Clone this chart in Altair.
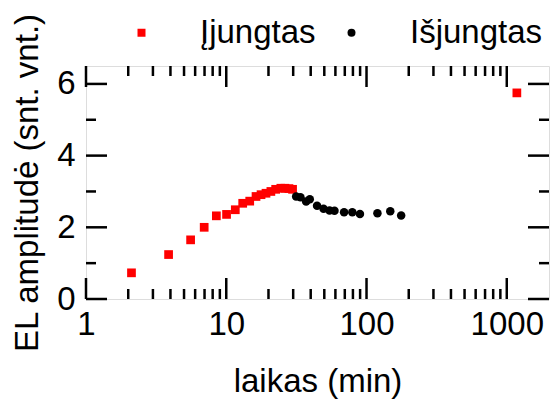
import altair as alt
import pandas as pd

# ---- data ----
on_time = [2.11, 3.88, 5.57, 6.96, 8.5, 10.05, 11.6, 13.1, 14.7, 16.3, 17.7, 19.2,
           20.8, 22.5, 24.5, 26.2, 28.0, 29.7, 1180]
on_amp = [0.73, 1.24, 1.65, 2.0, 2.32, 2.36, 2.49, 2.67, 2.73, 2.86, 2.91, 2.95,
          3.0, 3.06, 3.09, 3.09, 3.08, 3.06, 5.75]
off_time = [31.5, 33.8, 37.1, 39.4, 44.4, 49.4, 54.5, 59.1, 69.2, 79.2, 89.8,
            119.6, 147.7, 176.6]
off_amp = [2.86, 2.84, 2.72, 2.78, 2.60, 2.52, 2.47, 2.46, 2.42, 2.42, 2.37,
           2.39, 2.45, 2.33]
series_names = ["Įjungtas", "Išjungtas"]

x_major = [1, 10, 100, 1000]
x_minor = [2, 3, 4, 5, 6, 7, 8, 9, 20, 30, 40, 50, 60, 70, 80, 90,
           200, 300, 400, 500, 600, 700, 800, 900]
y_major = [0, 2, 4, 6]
y_minor = [1, 3, 5]

W, H = 463, 233
FONT = "Liberation Sans"
FS = 33

df = pd.DataFrame({
    "t": on_time + off_time,
    "a": on_amp + off_amp,
    "s": [series_names[0]] * len(on_time) + [series_names[1]] * len(off_time),
})

xscale = alt.Scale(type="log", domain=[1, 2000], nice=False)
yscale = alt.Scale(domain=[0, 6.5], nice=False, zero=False)

xaxis = alt.Axis(values=x_major, format="d", tickSize=0, domain=False, grid=False,
                 labelFont=FONT, labelFontSize=FS, labelColor="black", labelPadding=9,
                 title="laikas (min)", titleFont=FONT, titleFontSize=FS,
                 titleFontWeight="normal", titleColor="black", titlePadding=24,
                 labelFlush=False, labelOverlap=False)
yaxis = alt.Axis(values=y_major, tickSize=0, domain=False, grid=False,
                 labelFont=FONT, labelFontSize=FS, labelColor="black", labelPadding=11,
                 title="EL amplitudė (snt. vnt.)", titleFont=FONT, titleFontSize=FS,
                 titleFontWeight="normal", titleColor="black", titlePadding=12,
                 labelFlush=False, labelOverlap=False)

legend = alt.Legend(title=None, orient="none", direction="horizontal",
                    legendX=39, legendY=-50, labelFont=FONT,
                    labelFontSize=FS, labelColor="black",
                    labelOffset=42, columnPadding=19, symbolSize=64,
                    symbolStrokeWidth=0, padding=0, labelLimit=300)

points = alt.Chart(df).mark_point(filled=True, opacity=1, strokeWidth=0).encode(
    x=alt.X("t:Q", scale=xscale, axis=xaxis),
    y=alt.Y("a:Q", scale=yscale, axis=yaxis),
    color=alt.Color("s:N", scale=alt.Scale(domain=series_names, range=["#ff0000", "#000000"]),
                    legend=legend),
    shape=alt.Shape("s:N", scale=alt.Scale(domain=series_names, range=["square", "circle"]),
                    legend=legend),
    size=alt.condition(alt.datum.s == series_names[0], alt.value(76), alt.value(72)),
)

TW = 2.5
xmaj = pd.DataFrame({"t": x_major})
xmin = pd.DataFrame({"t": x_minor})
ymaj = pd.DataFrame({"a": y_major})
ymin = pd.DataFrame({"a": y_minor})

def xticks(d, length):
    bottom = alt.Chart(d).mark_rule(color="black", strokeWidth=TW).encode(
        x=alt.X("t:Q", scale=xscale), y=alt.value(H), y2=alt.value(H - length))
    top = alt.Chart(d).mark_rule(color="black", strokeWidth=TW).encode(
        x=alt.X("t:Q", scale=xscale), y=alt.value(0), y2=alt.value(length))
    return bottom + top

def yticks(d, length):
    left = alt.Chart(d).mark_rule(color="black", strokeWidth=TW).encode(
        y=alt.Y("a:Q", scale=yscale), x=alt.value(0), x2=alt.value(length))
    right = alt.Chart(d).mark_rule(color="black", strokeWidth=TW).encode(
        y=alt.Y("a:Q", scale=yscale), x=alt.value(W), x2=alt.value(W - length))
    return left + right

chart = alt.layer(
    xticks(xmaj, 21), xticks(xmin, 10), yticks(ymaj, 21), yticks(ymin, 10), points
).properties(
    width=W, height=H,
    autosize=alt.AutoSizeParams(type="none"),
    padding={"left": 86, "top": 66, "right": 2, "bottom": 100},
).configure_view(stroke="black", strokeWidth=3).configure(background="white")

chart.save("out.html", embed_options={"renderer": "svg", "actions": False})
